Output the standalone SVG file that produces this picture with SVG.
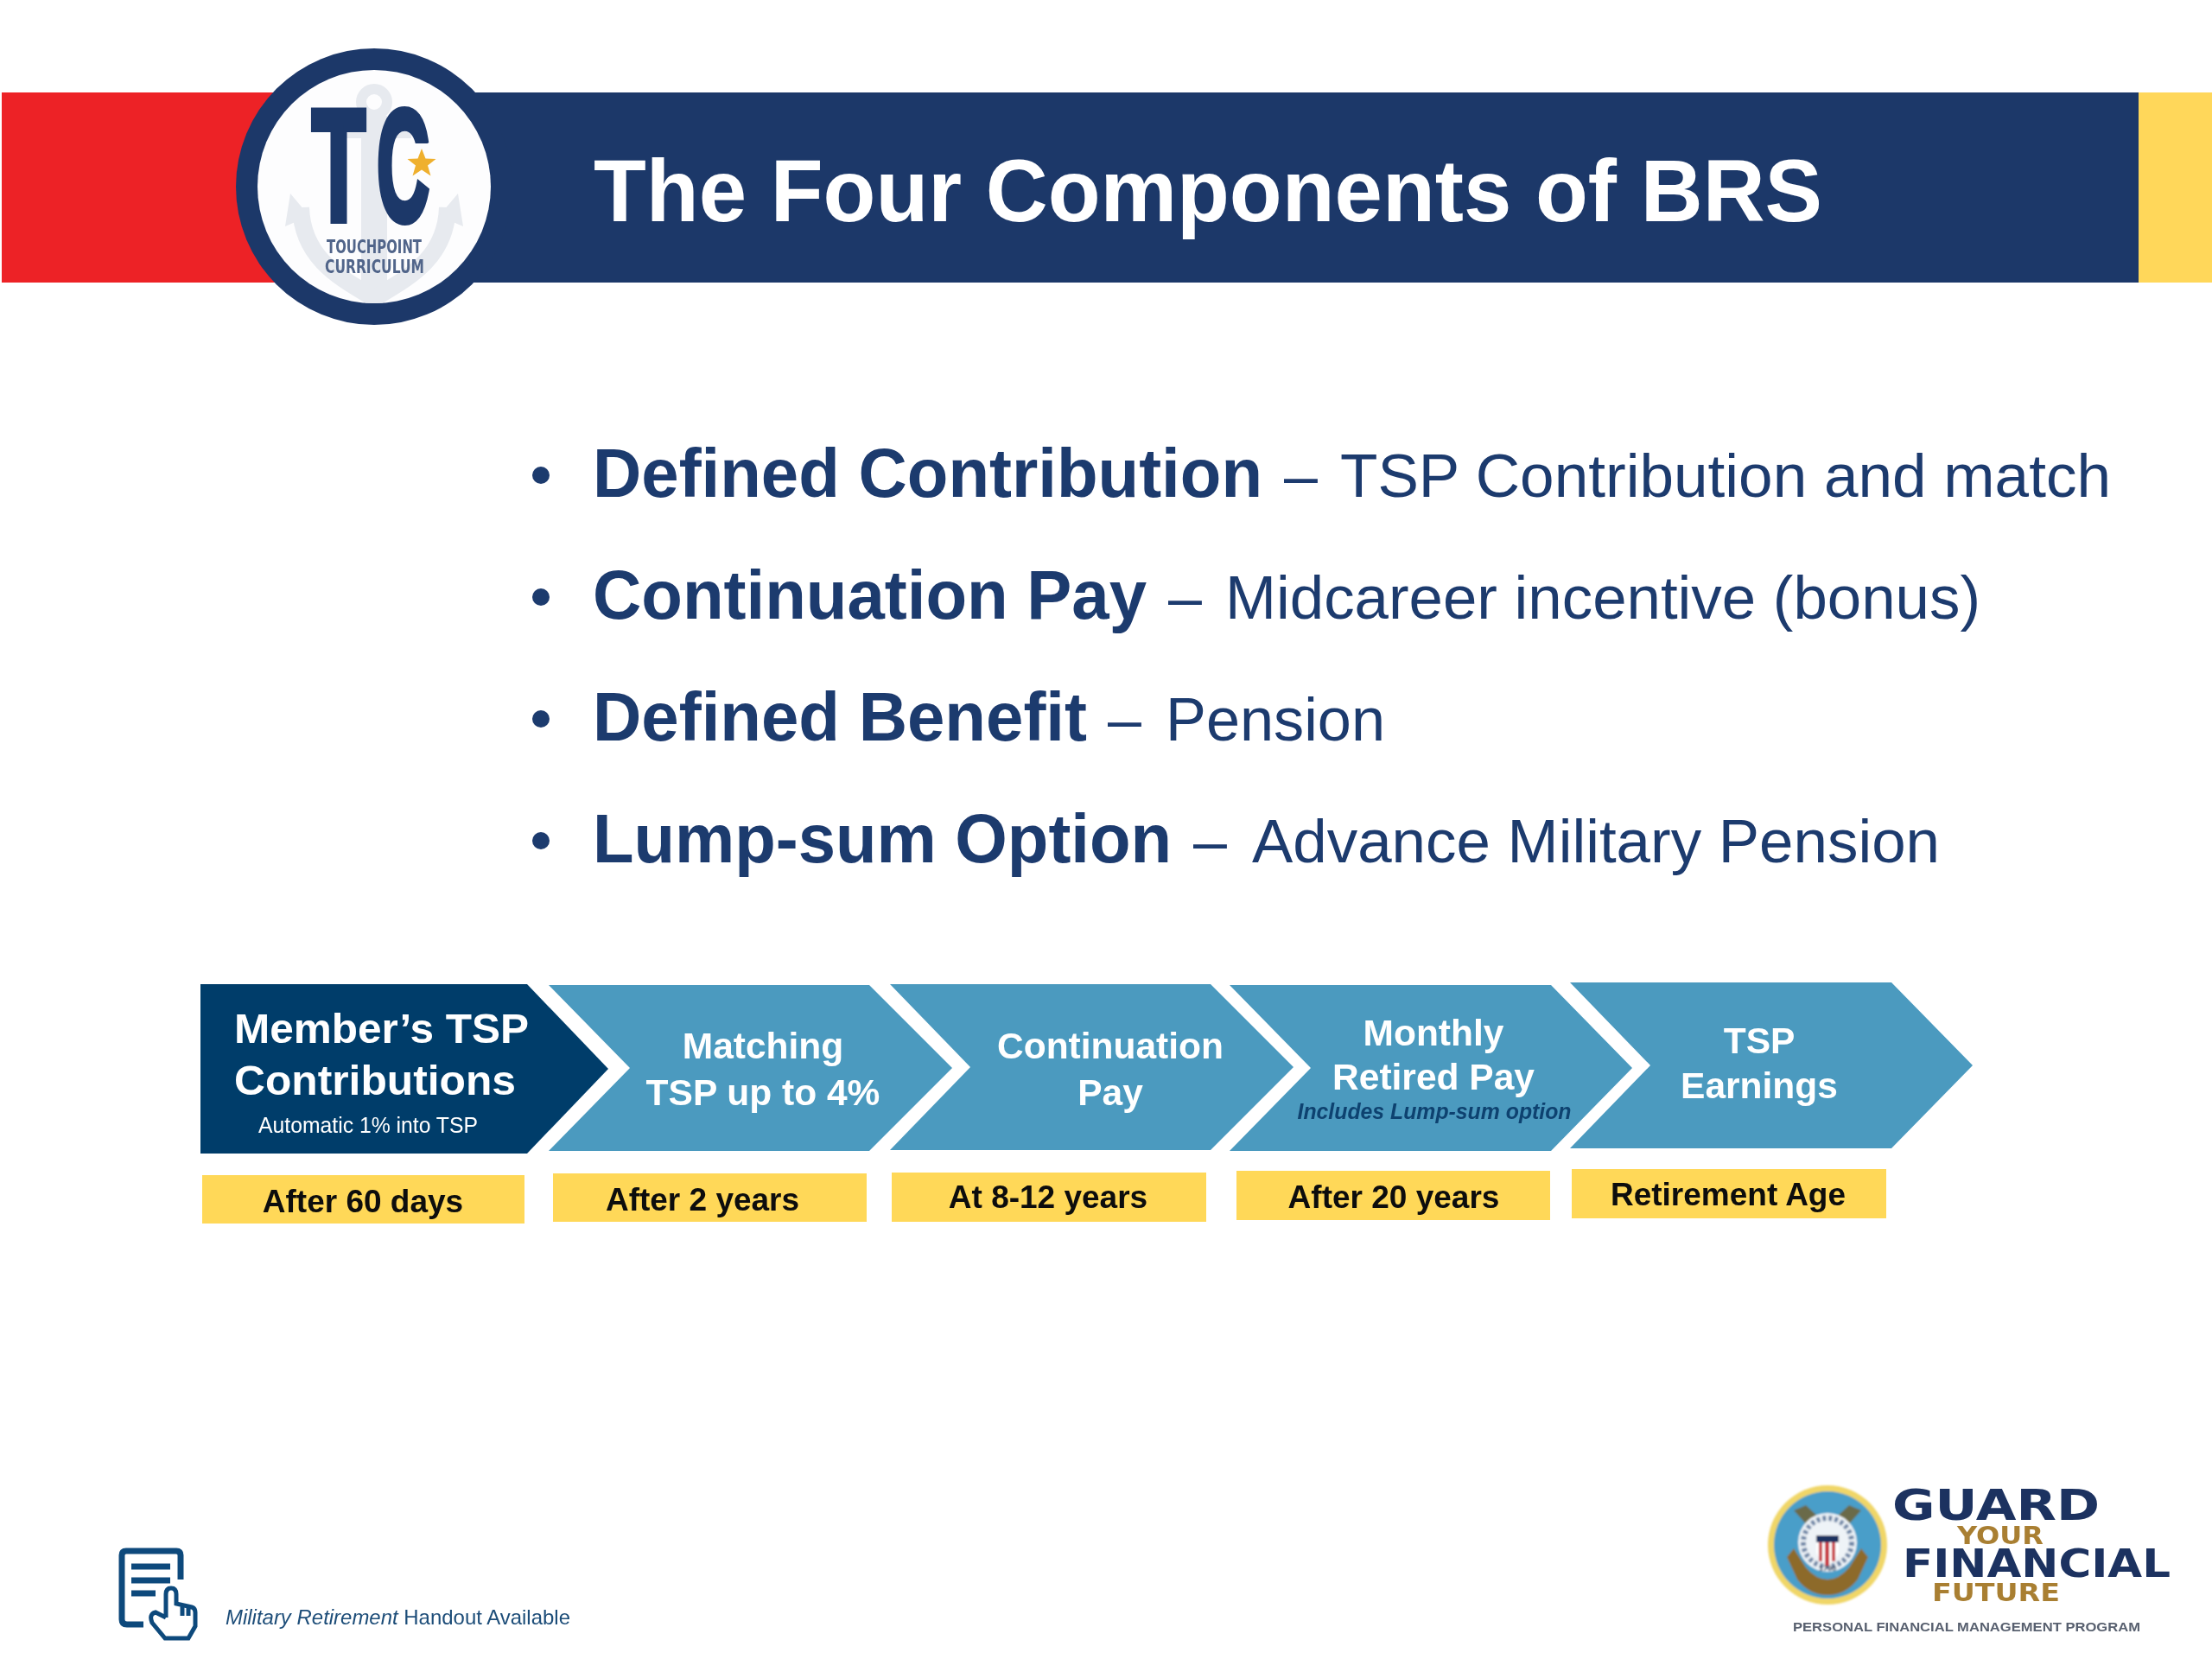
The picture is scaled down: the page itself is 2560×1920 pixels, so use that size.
<svg xmlns="http://www.w3.org/2000/svg" width="2560" height="1920" viewBox="0 0 2560 1920">
<defs>
<style>
text{font-family:"Liberation Sans",Arial,sans-serif}
.b{font-weight:700}
.m{text-anchor:middle}
.chev{fill:#4b9abf}
.w{fill:#fff;font-weight:700;font-size:42.500px;text-anchor:middle}
.y{fill:#ffd858}
.k{fill:#0b0b0b;font-weight:700;font-size:37px;text-anchor:middle}
.hb{fill:#1f3a6e;font-weight:700;font-size:79px}
.hr{fill:#1f3a6e;font-size:70px}
.wide{font-family:"DejaVu Sans",sans-serif;font-weight:700}
.navy{fill:#1c3260}
.gold{fill:#a97f32}
.ic{fill:none;stroke:#0f4a7c;stroke-width:7}
.tc{fill:#1e3869;stroke:#1e3869;stroke-width:8;font-weight:700;font-size:184px}
</style>
<filter id="page" filterUnits="userSpaceOnUse" x="0" y="0" width="2560" height="1920"><feGaussianBlur stdDeviation="0.7"/></filter>
<filter id="soft" x="-5%" y="-5%" width="110%" height="110%"><feGaussianBlur stdDeviation="1"/></filter>
<filter id="softer" x="-5%" y="-5%" width="110%" height="110%"><feGaussianBlur stdDeviation="0.7"/></filter>
<clipPath id="inner"><circle cx="433" cy="216" r="135"/></clipPath>
</defs>
<rect width="2560" height="1920" fill="#fff"/>
<g id="slide" filter="url(#page)">
<g id="banner">
<rect x="2" y="107" width="320" height="220" fill="#ed2028"/>
<rect x="322" y="107" width="2153" height="220" fill="#1e3869"/>
<rect x="2475" y="107" width="85" height="220" fill="#ffd75a"/>
<text x="687" y="256" class="b" font-size="102" fill="#fff" textLength="1422" lengthAdjust="spacingAndGlyphs">The Four Components of BRS</text>
</g>
<g id="tc-logo">
<circle cx="433" cy="216" r="160" fill="#1e3869"/>
<circle cx="433" cy="216" r="135" fill="#fdfdfe"/>
<g clip-path="url(#inner)" fill="none" stroke="#e7eaef">
<circle cx="433" cy="118" r="15" stroke-width="12"/>
<path d="M433 134V340" stroke-width="30"/>
<path d="M390 152H476" stroke-width="16"/>
<path d="M348 240C350 300 395 322 433 345C471 322 516 300 518 240" stroke-width="20"/>
</g>
<path d="M336 224L330 262L358 250ZM530 224L536 262L508 250Z" fill="#e7eaef"/>
<text x="361" y="255" class="tc" textLength="62" lengthAdjust="spacingAndGlyphs">T</text>
<text x="436" y="255" class="tc" textLength="61" lengthAdjust="spacingAndGlyphs">C</text>
<rect x="478" y="166" width="28" height="40" fill="#fdfdfe"/>
<path d="M488 172l4.500 11.500 12 .5-9.500 7.500 3.500 12-10.500-7-10.500 7 3.500-12-9.500-7.500 12-.5z" fill="#efb02e"/>
<text x="378" y="293" class="wide" font-size="21" fill="#51658a" textLength="110" lengthAdjust="spacingAndGlyphs">TOUCHPOINT</text>
<text x="376" y="316" class="wide" font-size="21" fill="#51658a" textLength="115" lengthAdjust="spacingAndGlyphs">CURRICULUM</text>
</g>
<g id="bullets">
<g id="bullet-1"><circle cx="626" cy="550" r="10" fill="#1f3a6e"/><text x="686" y="575" class="hb" textLength="775" lengthAdjust="spacingAndGlyphs">Defined Contribution</text><text x="1486" y="575" class="hr">–</text><text x="1551" y="575" class="hr" textLength="892" lengthAdjust="spacingAndGlyphs">TSP Contribution and match</text></g>
<g id="bullet-2"><circle cx="626" cy="691" r="10" fill="#1f3a6e"/><text x="686" y="716" class="hb" textLength="641" lengthAdjust="spacingAndGlyphs">Continuation Pay</text><text x="1352" y="716" class="hr">–</text><text x="1418" y="716" class="hr" textLength="874" lengthAdjust="spacingAndGlyphs">Midcareer incentive (bonus)</text></g>
<g id="bullet-3"><circle cx="626" cy="832" r="10" fill="#1f3a6e"/><text x="686" y="857" class="hb" textLength="572" lengthAdjust="spacingAndGlyphs">Defined Benefit</text><text x="1282" y="857" class="hr">–</text><text x="1349" y="857" class="hr" textLength="254" lengthAdjust="spacingAndGlyphs">Pension</text></g>
<g id="bullet-4"><circle cx="626" cy="973" r="10" fill="#1f3a6e"/><text x="686" y="998" class="hb" textLength="670" lengthAdjust="spacingAndGlyphs">Lump-sum Option</text><text x="1381" y="998" class="hr">–</text><text x="1449" y="998" class="hr" textLength="796" lengthAdjust="spacingAndGlyphs">Advance Military Pension</text></g>
</g>
<g id="stage-1">
<polygon points="232,1139 610,1139 704,1237 610,1335 232,1335" fill="#033e6b"/>
<text x="271" y="1207" class="b" font-size="48" fill="#fff" textLength="341" lengthAdjust="spacingAndGlyphs">Member’s TSP</text>
<text x="271" y="1267" class="b" font-size="48" fill="#fff" textLength="326" lengthAdjust="spacingAndGlyphs">Contributions</text>
<text x="299" y="1311" font-size="25" fill="#fff" textLength="254" lengthAdjust="spacingAndGlyphs">Automatic 1% into TSP</text>
<rect x="234" y="1360" width="373" height="56" class="y"/>
<text x="420" y="1403" class="k">After 60 days</text>
</g>
<g id="stage-2">
<polygon points="635,1140 1006,1140 1102,1236 1006,1332 635,1332 729,1236" class="chev"/>
<text x="883" y="1225" class="w">Matching</text>
<text x="883" y="1279" class="w">TSP up to 4%</text>
<rect x="640" y="1358" width="363" height="56" class="y"/>
<text x="813" y="1401" class="k">After 2 years</text>
</g>
<g id="stage-3">
<polygon points="1030,1139 1401,1139 1497,1235 1401,1331 1030,1331 1123,1235" class="chev"/>
<text x="1285" y="1225" class="w">Continuation</text>
<text x="1285" y="1279" class="w">Pay</text>
<rect x="1032" y="1357" width="364" height="57" class="y"/>
<text x="1213" y="1398" class="k">At 8-12 years</text>
</g>
<g id="stage-4">
<polygon points="1423,1140 1795,1140 1889,1236 1795,1332 1423,1332 1517,1236" class="chev"/>
<text x="1659" y="1210" class="w">Monthly</text>
<text x="1659" y="1261" class="w">Retired Pay</text>
<text x="1660" y="1295" class="b m" font-style="italic" font-size="25" fill="#10426f" textLength="317" lengthAdjust="spacingAndGlyphs">Includes Lump-sum option</text>
<rect x="1431" y="1355" width="363" height="57" class="y"/>
<text x="1613" y="1398" class="k">After 20 years</text>
</g>
<g id="stage-5">
<polygon points="1817,1137 2189,1137 2283,1233 2189,1329 1817,1329 1910,1233" class="chev"/>
<text x="2036" y="1219" class="w">TSP</text>
<text x="2036" y="1271" class="w">Earnings</text>
<rect x="1819" y="1353" width="364" height="57" class="y"/>
<text x="2000" y="1395" class="k">Retirement Age</text>
</g>
<g id="handout">
<path class="ic" d="M209 1828V1800Q209 1795 204 1795H146Q141 1795 141 1800V1874Q141 1880 147 1880H166"/>
<path d="M152 1813H197M152 1829H197M152 1844H180" fill="none" stroke="#0f4a7c" stroke-width="7"/>
<path d="M192 1872V1845Q192 1838 198 1838Q204 1838 204 1845V1856L222 1860Q226 1861 226 1866V1882L218 1896H191L176 1878Q172 1868 180 1866L192 1872M211 1858V1870M218 1860V1870" fill="#fff" stroke="#0f4a7c" stroke-width="5"/>
<text x="261" y="1880" font-size="24" fill="#1f4e79" textLength="399" lengthAdjust="spacingAndGlyphs"><tspan font-style="italic">Military Retirement</tspan> Handout Available</text>
</g>
<g id="guard-logo">
<g filter="url(#soft)">
<circle cx="2115" cy="1788" r="69" fill="#f0d668"/>
<circle cx="2115" cy="1788" r="62" fill="#4a9ec9"/>
<path d="M2076 1748l14-6 32 30-14 12zM2154 1748l-14-6-32 30 14 12z" fill="#6b6a4a"/>
<path d="M2068 1802l8-10 14 22q12 14 25 14q13 0 25-14l14-22 8 10-12 26q-14 18-35 18q-21 0-35-18z" fill="#8d6b2c"/>
<circle cx="2115" cy="1785" r="34" fill="#eef3f7"/>
<circle cx="2115" cy="1785" r="28" fill="none" stroke="#6f86a6" stroke-width="6" stroke-dasharray="4 3"/>
<rect x="2102" y="1777" width="26" height="8" fill="#1c3260"/>
<path d="M2102 1785h26v12q-4 10-13 14q-9-4-13-14z" fill="#fff"/>
<path d="M2105 1785h4v22h-4zM2112 1785h5v27h-5zM2120 1785h4v22h-4z" fill="#c8313a"/>
<text x="2115" y="1818" class="b m" font-size="9" fill="#33415c">1790</text>
</g>
<g filter="url(#softer)">
<text x="2190" y="1759" class="wide navy" font-size="50" textLength="240" lengthAdjust="spacingAndGlyphs">GUARD</text>
<text x="2265" y="1787" class="wide gold" font-size="29" textLength="100" lengthAdjust="spacingAndGlyphs">YOUR</text>
<text x="2202" y="1825" class="wide navy" font-size="44" textLength="310" lengthAdjust="spacingAndGlyphs">FINANCIAL</text>
<text x="2236" y="1853" class="wide gold" font-size="28" textLength="148" lengthAdjust="spacingAndGlyphs">FUTURE</text>
<text x="2075" y="1888" font-size="15" class="b" fill="#59616f" textLength="402" lengthAdjust="spacingAndGlyphs">PERSONAL FINANCIAL MANAGEMENT PROGRAM</text>
</g>
</g>
</g>
</svg>
